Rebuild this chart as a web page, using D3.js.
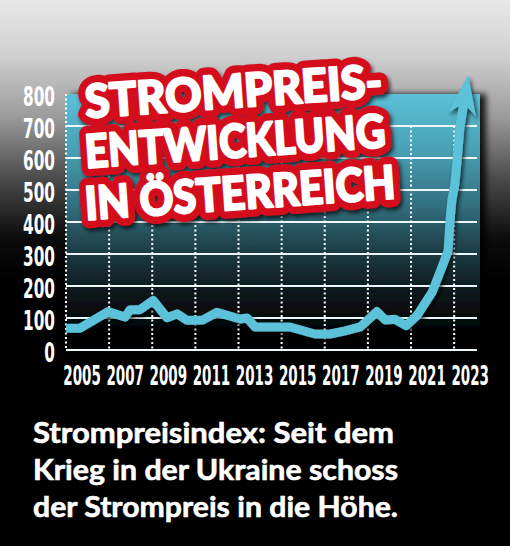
<!DOCTYPE html>
<html><head><meta charset="utf-8">
<script src="https://cdn.jsdelivr.net/npm/d3@7"></script>
<style>html,body{margin:0;padding:0;background:#000;overflow:hidden}svg{display:block}</style>
</head><body>
<script>
// ---- data ----
const titleLines = ["STROMPREIS-", "ENTWICKLUNG", "IN ÖSTERREICH"];
const captionLines = ["Strompreisindex: Seit dem", "Krieg in der Ukraine schoss", "der Strompreis in die Höhe."];
const yTicks = [0, 100, 200, 300, 400, 500, 600, 700, 800];
const xLabels = [2005, 2007, 2009, 2011, 2013, 2015, 2017, 2019, 2021, 2023];
const xGrid = [2006, 2008, 2010, 2012, 2014, 2016, 2018, 2020, 2022];
const years = [2004.0, 2004.65, 2005.95, 2006.74, 2006.97, 2007.43, 2008.04, 2008.68, 2009.15, 2009.61,
  2010.35, 2011.0, 2012.07, 2012.4, 2012.77, 2014.39, 2015.55, 2016.24, 2016.94, 2017.64,
  2018.42, 2018.8, 2019.26, 2019.77, 2020.28, 2020.98, 2021.44, 2021.72, 2021.81, 2021.9,
  2022.04, 2022.14, 2022.27, 2022.45, 2022.65];
const values = [68, 68, 120, 103, 126, 126, 155, 101, 113, 93,
  94, 118, 97, 100, 72, 72, 50, 50, 60, 72,
  120, 94, 96, 76, 108, 181, 260, 310, 406, 470,
  520, 594, 697, 770, 860];

// ---- layout ----
const W = 510, H = 546;
const svg = d3.select("body").append("svg").attr("width", W).attr("height", H);
const defs = svg.append("defs");

const bg = defs.append("linearGradient").attr("id", "bg").attr("gradientUnits", "userSpaceOnUse")
  .attr("x1", 0).attr("y1", 0).attr("x2", 0).attr("y2", 280);
[[0, "#e8e8e8"], [0.2, "#d0d0d0"], [0.42, "#9a9a9a"], [0.64, "#4a4a4a"], [0.85, "#0c0c0c"], [1, "#000"]]
  .forEach(([o, c]) => bg.append("stop").attr("offset", o).attr("stop-color", c));

const pg = defs.append("linearGradient").attr("id", "pg").attr("gradientUnits", "userSpaceOnUse")
  .attr("x1", 0).attr("y1", 94).attr("x2", 0).attr("y2", 340);
[[0, "#5bc0d8"], [0.22, "#4aa2b6"], [0.45, "#327080"], [0.65, "#1c3a42"], [0.82, "#0b1417"], [1, "#000"]]
  .forEach(([o, c]) => pg.append("stop").attr("offset", o).attr("stop-color", c));

const sh = defs.append("filter").attr("id", "sh").attr("x", "-10%").attr("y", "-10%").attr("width", "130%").attr("height", "130%");
sh.append("feDropShadow").attr("dx", 2).attr("dy", 3).attr("stdDeviation", 2).attr("flood-color", "#000").attr("flood-opacity", 0.7);
const psh = defs.append("filter").attr("id", "psh").attr("x", "-5%").attr("y", "-5%").attr("width", "115%").attr("height", "115%");
psh.append("feDropShadow").attr("dx", 6).attr("dy", 0).attr("stdDeviation", 3).attr("flood-color", "#000").attr("flood-opacity", 0.85);

svg.append("rect").attr("width", W).attr("height", H).attr("fill", "url(#bg)");

const x = d3.scaleLinear().domain([2004, 2023.2]).range([66, 480]);
const y = d3.scaleLinear().domain([0, 800]).range([350, 94]);

// plot background
svg.append("rect").attr("x", x(2004)).attr("y", y(800))
  .attr("width", x(2023.2) - x(2004)).attr("height", y(0) - y(800))
  .attr("fill", "url(#pg)").attr("filter", "url(#psh)");

// horizontal grid
svg.append("g").selectAll("line").data(yTicks.filter(v => v < 800)).join("line")
  .attr("x1", x(2004)).attr("x2", x(2023.2) - 3)
  .attr("y1", d => y(d)).attr("y2", d => y(d))
  .attr("stroke", "#eef8fb").attr("stroke-width", 2);

// vertical dotted grid
svg.append("g").selectAll("line").data(xGrid).join("line")
  .attr("x1", d => x(d)).attr("x2", d => x(d))
  .attr("y1", y(700)).attr("y2", y(0))
  .attr("stroke", "#fff").attr("stroke-width", 2).attr("stroke-dasharray", "2,2.5");
svg.append("line").attr("x1", x(2004)).attr("x2", x(2004)).attr("y1", y(800)).attr("y2", y(0))
  .attr("stroke", "#fff").attr("stroke-width", 2).attr("stroke-dasharray", "2,2.5");

// axes (tall condensed digits via vertical stretch)
const numFont = "'DejaVu Sans Condensed','DejaVu Sans',sans-serif";
const yS = 1.6, xS = 1.8;
const ya = svg.append("g").attr("transform", `translate(55,0)`)
  .call(d3.axisLeft(y).tickValues(yTicks).tickSize(0).tickPadding(0));
ya.select(".domain").remove();
ya.selectAll("text").attr("x", 0).attr("y", 0).attr("dy", 11.5 / yS)
  .attr("fill", "#fff").attr("font-family", numFont).attr("font-weight", "bold")
  .attr("font-size", 17).attr("text-anchor", "end").attr("transform", `scale(1,${yS})`);

const xa = svg.append("g").attr("transform", `translate(-6,365)`)
  .call(d3.axisBottom(x).tickValues(xLabels).tickSize(0).tickFormat(d3.format("d")));
xa.select(".domain").remove();
xa.selectAll("text").attr("y", 20 / xS).attr("dy", 0)
  .attr("fill", "#fff").attr("font-family", numFont).attr("font-weight", "bold")
  .attr("font-size", 15).attr("text-anchor", "middle").attr("transform", `scale(1,${xS})`);

// line + arrow
const pts = years.map((yr, i) => ({ year: yr, value: values[i] }));
const body = pts.slice(0, -1);
const tip = pts[pts.length - 1];
const prev = pts[pts.length - 2];
const line = d3.line().x(d => x(d.year)).y(d => y(d.value));
const lg = svg.append("g").attr("filter", "url(#sh)");
lg.append("path").attr("d", line(body)).attr("fill", "none")
  .attr("stroke", "#5bc2d9").attr("stroke-width", 9).attr("stroke-linejoin", "round");
const tx = x(tip.year), ty = y(tip.value);
let dx = tx - x(prev.year), dy = ty - y(prev.value);
const len = Math.hypot(dx, dy); dx /= len; dy /= len;
const nx = -dy, ny = dx;
const AL = 40, AW = 14, AN = 11;
const arrow = [
  [tx, ty],
  [tx - AL * dx + AW * nx, ty - AL * dy + AW * ny],
  [tx - (AL - AN) * dx, ty - (AL - AN) * dy],
  [tx - AL * dx - AW * nx, ty - AL * dy - AW * ny]
];
lg.append("path").attr("d", "M" + arrow.map(p => p.join(",")).join("L") + "Z").attr("fill", "#5bc2d9");

// title
const titleFont = "Lato, 'Open Sans', Roboto, sans-serif";
const tBase = [118, 168, 220];
const tLen = [298, 301, 311];
const tg = svg.append("g").attr("filter", "url(#sh)");
titleLines.forEach((t, i) => {
  tg.append("text").attr("transform", `translate(86,${tBase[i]}) rotate(-4)`)
    .attr("font-family", titleFont).attr("font-weight", 900).attr("font-size", 46)
    .attr("textLength", tLen[i]).attr("lengthAdjust", "spacingAndGlyphs")
    .attr("fill", "#d40a1e").attr("stroke", "#d40a1e").attr("stroke-width", 17)
    .attr("stroke-linejoin", "round").text(t);
});
titleLines.forEach((t, i) => {
  svg.append("text").attr("transform", `translate(86,${tBase[i]}) rotate(-4)`)
    .attr("font-family", titleFont).attr("font-weight", 900).attr("font-size", 46)
    .attr("textLength", tLen[i]).attr("lengthAdjust", "spacingAndGlyphs")
    .attr("fill", "#fff").attr("stroke", "#fff").attr("stroke-width", 2.2)
    .attr("stroke-linejoin", "round").text(t);
});

// caption
const cBase = [443, 480, 517];
const cLen = [361, 365, 365];
captionLines.forEach((t, i) => {
  svg.append("text").attr("x", 33).attr("y", cBase[i])
    .attr("font-family", "Lato, 'Open Sans', sans-serif").attr("font-weight", 700).attr("font-size", 28)
    .attr("textLength", cLen[i]).attr("lengthAdjust", "spacingAndGlyphs")
    .attr("fill", "#fff").attr("stroke", "#fff").attr("stroke-width", 0.6).text(t);
});
</script>
</body></html>
